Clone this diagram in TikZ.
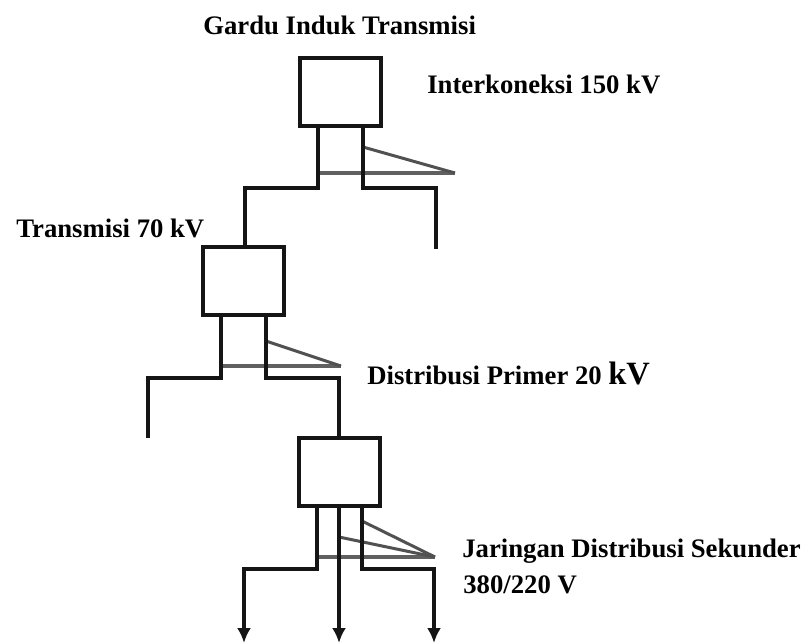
\documentclass[tikz,border=0pt]{standalone}
\usepackage{fontspec}
\setmainfont{Liberation Serif}
\usetikzlibrary{arrows.meta}
\definecolor{Ink}{HTML}{151515}
\definecolor{TieGray}{HTML}{606060}
\tikzset{
  subbox/.style={draw=Ink,line width=0.08cm,fill=white,inner sep=0pt,outer sep=0pt,
    minimum width=1.62cm,minimum height=1.36cm},
  feeder/.style={draw=Ink,line width=0.08cm},
  tiebar/.style={draw=TieGray,line width=0.065cm},
  tieslant/.style={draw=TieGray!80!Ink,line width=0.06cm},
  lab/.style={anchor=base west,inner sep=0pt,font=\fontsize{15.2}{18}\selectfont\bfseries,text=black}
}
\begin{document}
\begin{tikzpicture}[x=0.02cm,y=-0.02cm,>=Latex]
    \useasboundingbox (0,0) rectangle (803,643);

    \node[subbox] (box1) at (340.5,92) {};
    \node[subbox] (box2) at (243.5,281) {};
    \node[subbox] (box3) at (339,472) {};

    % tie lines first, the feeders lie over them
    \coordinate (tie1a) at (318,173);
    \coordinate (tie1b) at (455,173);
    \coordinate (tie1c) at (363,147);
    \draw[tiebar] (tie1a) -- (tie1b);
    \draw[tieslant] (tie1c) -- (tie1b);
    \coordinate (tie2a) at (221,366);
    \coordinate (tie2b) at (341,366);
    \coordinate (tie2c) at (266,341);
    \draw[tiebar] (tie2a) -- (tie2b);
    \draw[tieslant] (tie2c) -- (tie2b);
    \coordinate (tie3a) at (317,557);
    \coordinate (tie3b) at (435,557);
    \coordinate (tie3c) at (339,537);
    \coordinate (tie3d) at (362,521);
    \draw[tiebar] (tie3a) -- (tie3b);
    \draw[tieslant] (tie3c) -- (tie3b);
    \draw[tieslant] (tie3d) -- (tie3b);

    % feeders
    \coordinate (leg1a) at (318,126);
    \coordinate (leg1b) at (363,126);
    \coordinate (bend1) at (245,188);
    \coordinate (end1) at (436,249);
    \draw[feeder] (leg1a) |- (bend1) -- (bend1 |- box2.north);
    \draw[feeder] (leg1b) |- (end1 |- bend1) -- (end1);

    \coordinate (leg2a) at (221,315);
    \coordinate (leg2b) at (266,315);
    \coordinate (bend2) at (148,378);
    \coordinate (end2) at (148,438);
    \draw[feeder] (leg2a) |- (bend2) -- (end2);
    \draw[feeder] (leg2b) |- (box3.north |- bend2) -- (box3.north);

    \coordinate (leg3a) at (317,506);
    \coordinate (leg3b) at (339,506);
    \coordinate (leg3c) at (362,506);
    \coordinate (out1) at (244,643);
    \coordinate (out2) at (339,643);
    \coordinate (out3) at (434,643);
    \coordinate (bend3) at (244,569);
    \foreach \a/\b in {leg3a/out1,leg3c/out3} {
      \draw[feeder,-{Latex[length=0.3cm,width=0.28cm]}] (\a) |- (\b |- bend3) -- (\b);
    }
    \draw[feeder,-{Latex[length=0.3cm,width=0.28cm]}] (leg3b) -- (out2);

    \node[lab] (labgardu) at (203,34) {Gardu Induk Transmisi};
    \node[lab] (labinter) at (427,93) {Interkoneksi 150 kV};
    \node[lab] (labtrans) at (16,237) {Transmisi 70 kV};
    \node[lab] (labprimer) at (367,384) {Distribusi Primer 20 {\fontsize{18.5}{20}\selectfont kV}};
    \node[lab] (labsekunder) at (462,557) {Jaringan Distribusi Sekunder};
    \node[lab] (labvolt) at (463,593) {380/220 V};
\end{tikzpicture}
\end{document}
